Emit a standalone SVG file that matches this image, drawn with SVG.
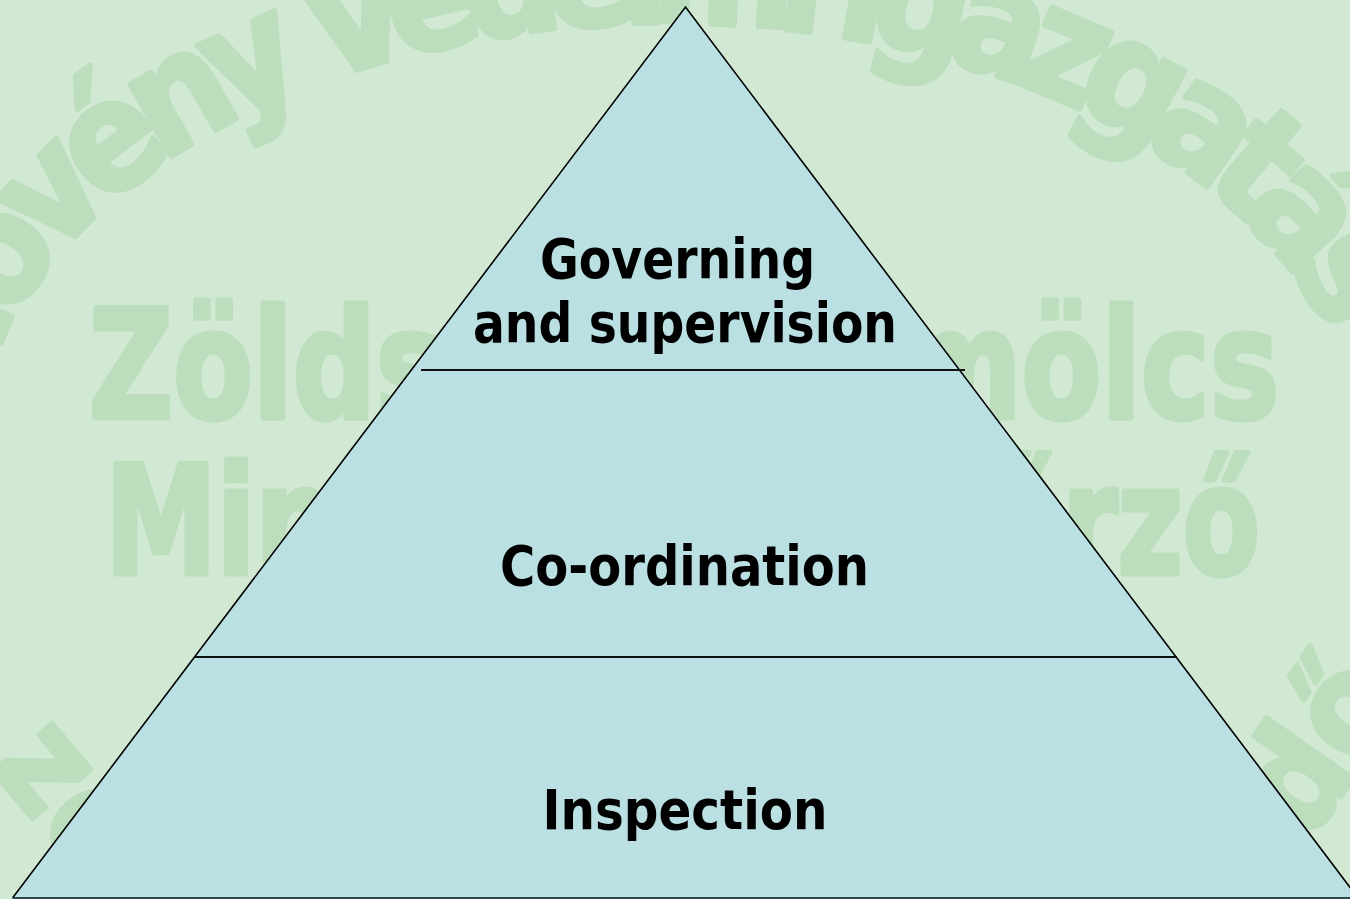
<svg xmlns="http://www.w3.org/2000/svg" width="1350" height="899" viewBox="0 0 1350 899">
<defs>
<style>
.wm { fill:#bcdebd; stroke:#bcdebd; stroke-width:5; stroke-linejoin:round; font-family:'Liberation Sans Narrow','DejaVu Sans Condensed','DejaVu Sans',sans-serif; font-weight:bold; font-stretch:condensed; font-size:152px; }
.lbl { fill:#000; font-family:'DejaVu Sans Condensed','DejaVu Sans',sans-serif; font-stretch:condensed; font-weight:bold; font-size:55px; text-anchor:middle; }
.tier { fill:#bae0e3; stroke:none; }
.edge { stroke:#000; stroke-width:1.6; fill:none; }
.divider { stroke:#111; stroke-width:2; fill:none; }
</style>
<path id="arcTop" d="M -27 470 A 695 447 0 0 1 1363 470"/>
</defs>
<rect width="1350" height="899" fill="#d1e8d3"/>
<g id="watermark">
<text class="wm"><textPath href="#arcTop" startOffset="58" textLength="1617" lengthAdjust="spacing">Növény Védelmi Igazgatás</textPath></text>
<text class="wm" x="89" y="418" textLength="1190" lengthAdjust="spacingAndGlyphs">Zöldség Gyümölcs</text>
<text class="wm" x="105" y="574" textLength="1155" lengthAdjust="spacingAndGlyphs">Minőség Ellenőrző</text>
<text class="wm" style="font-size:140px" transform="translate(-11,767) rotate(50)">ző</text>
<text class="wm" style="font-size:140px" transform="translate(1308,844) rotate(-55)">dő</text>
</g>
<g id="tier-top">
<polygon class="tier" points="685.5,7 411.3,370 959.5,370"/>
<text class="lbl" x="677.5" y="278" textLength="275" lengthAdjust="spacingAndGlyphs">Governing</text>
<text class="lbl" x="685" y="342" textLength="424" lengthAdjust="spacingAndGlyphs">and supervision</text>
</g>
<g id="tier-middle">
<polygon class="tier" points="411.3,370 959.5,370 1176.1,657 194.5,657"/>
<text class="lbl" x="684.5" y="585" textLength="369" lengthAdjust="spacingAndGlyphs">Co-ordination</text>
</g>
<g id="tier-bottom">
<polygon class="tier" points="194.5,657 1176.1,657 1358,898 12.5,898"/>
<text class="lbl" x="685" y="829" textLength="285" lengthAdjust="spacingAndGlyphs">Inspection</text>
</g>
<g id="outline">
<path class="edge" d="M 12.5 898 L 685.5 7 L 1358 898"/>
<line class="divider" x1="421" y1="370" x2="965" y2="370"/>
<line class="divider" x1="194.5" y1="657" x2="1177" y2="657"/>
<line x1="12.5" y1="898" x2="1350" y2="898" stroke="#2f4a4a" stroke-width="2"/>
</g>
</svg>
